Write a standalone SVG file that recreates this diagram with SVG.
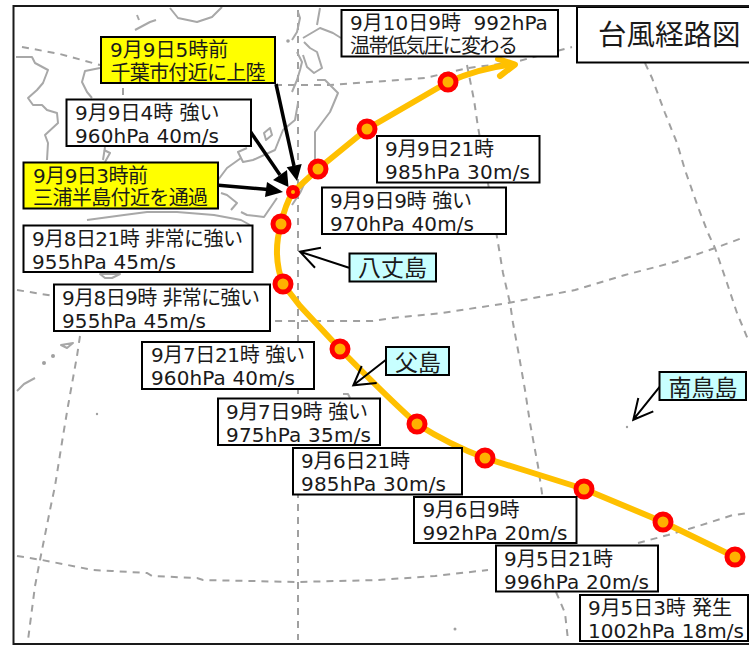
<svg xmlns="http://www.w3.org/2000/svg" width="749" height="646" viewBox="0 0 749 646">
<style>
text{font-family:"DejaVu Sans","Noto Sans CJK JP",sans-serif;font-size:20px;fill:#1a1a1a;white-space:pre}
.isln{font-size:23px}
.box{fill:#fff;stroke:#000;stroke-width:2}
.y{fill:#ff0}
.c{fill:#c8ffff}
.coast{fill:none;stroke:#a8a8a8;stroke-width:2;stroke-linejoin:round}
.dash{fill:none;stroke:#a0a0a0;stroke-width:2;stroke-dasharray:7 6}
.isl{fill:#a0a0a0}
.mk{fill:#ffb000;stroke:#f00;stroke-width:5}
.route{fill:none;stroke:#ffc000;stroke-width:6;stroke-linecap:round;stroke-linejoin:round}
.arw{fill:none;stroke:#000;stroke-width:3.500}
.thin{fill:none;stroke:#000;stroke-width:2}
</style>
<rect x="0" y="0" width="749" height="646" fill="#fff"/>
<g id="map">
<path class="dash" d="M298 10V640"/>
<path class="dash" d="M22 47L60 54L100 65M275 85H330L425 78L468 68L515 62L572 47"/>
<path class="dash" d="M17 290L54 296L270 321L373 321L392 318L442 313L508 303L575 290L625 275L675 262L715 248L745 237"/>
<path class="dash" d="M645 63L652 78L665 113L677 143L685 170L698 207L708 233L715 248L727 283L737 313L742 325L749 342"/>
<path class="dash" d="M467 65L474 100L478 127L488 183L498 243L503 273L510 303L513 323L518 350L525 390L530 423L538 466L543 500M556 592L565 613L568 640"/>
<path class="dash" d="M17 556L42 560L93 570L112 571L147 573L152 576L197 578L203 580L297 582L378 580L435 576L488 570M638 543L668 535L692 528L708 523L733 515L749 513"/>
<path class="dash" d="M80 336L77 356L68 406L63 436L55 486L50 510L42 550L40 560L35 586L28 640"/>
<path class="dash" d="M123 88V100"/>
<path class="coast" d="M16 57H32L35 63L48 70L43 83L37 90L28 98L33 105L42 105L47 110L57 113L58 123L45 135L48 143L47 160"/>
<path class="coast" d="M100 68L85 71L82 82L87 92L92 98M105 147L103 160M135 30L150 22L156 20M137 15L139 20M170 8L178 18L197 22L212 17L222 7"/>
<path class="coast" d="M298 12L300 18L297 32L292 40M303 38L320 28L333 33L341 38M320 8L317 25M297 52L302 62L300 70L297 80L292 92M304 42L310 48L317 52L322 68L314 73L307 67L303 55M317 80L325 80L338 93L333 105L330 112L315 132L315 160M307 178L300 193L292 205"/>
<path class="coast" d="M298 103L295 120L283 130L275 150L253 160L243 162L238 152L247 148M241 158L227 168L218 180"/>
<path class="coast" d="M221 193L227 195L237 203L231 210M241 212L247 215L264 217L277 198M87 220L124 215L147 212L177 212L214 215L241 220L250 225M104 150L110 153L105 162"/>
<path class="coast" d="M264 133L270 128L272 135L266 140Z"/>
<path class="coast" d="M100 274L120 274L112 278L105 278Z"/>
<circle class="isl" cx="288" cy="41" r="1.800"/>
<circle class="isl" cx="97" cy="414" r="1.200"/>
<circle class="isl" cx="627" cy="427" r="1.200"/>
<circle class="isl" cx="455" cy="629" r="1.500"/>
<path class="coast" d="M343 394H348L350 398"/>
<path class="coast" d="M17 391L24 384L35 378"/>
<circle class="isl" cx="44" cy="363" r="2"/>
<circle class="isl" cx="53" cy="356" r="2"/>
<path class="coast" d="M61 345L73 343L67 348Z"/>
</g>
<g id="connectors">
<path class="route" d="M735 557L663 522L584 489L530 472L485 458Q450 445 417 424Q385 395 340 349L300 306L283 284Q272 255 281 224Q285 205 293 192L318 169L367 129L448 82Q480 68 512 64.500"/>
<path class="route" d="M498 59L515 64.500L500 76"/>
<path class="arw" d="M276 84L294 166"/>
<path d="M286.700 167.300L301.700 164L297 181Z" fill="#000"/>
<path class="arw" d="M250 131L280 175"/>
<path d="M273 180L287 170L288.500 187Z" fill="#000"/>
<path class="arw" d="M215.700 185L268 189.500"/>
<path d="M267 182L265 197L283 192Z" fill="#000"/>
<path class="thin" d="M349 267.700L300 251.700M321 247.700L300 251.700L315 267.700"/>
<path class="thin" d="M385.700 360L353.300 385.300M361.700 366L353.300 385.300L376.700 383"/>
<path class="thin" d="M660 386.300L633.300 419.700M638.300 398L633.300 419.700L653.300 411.300"/>
</g>
<g id="typhoon-points">
<circle id="p1" class="mk" cx="735" cy="557" r="8"/>
<circle id="p2" class="mk" cx="663" cy="522" r="8"/>
<circle id="p3" class="mk" cx="584" cy="489" r="8"/>
<circle id="p4" class="mk" cx="485" cy="458" r="8"/>
<circle id="p5" class="mk" cx="417" cy="424" r="8"/>
<circle id="p6" class="mk" cx="340" cy="349" r="8"/>
<circle id="p7" class="mk" cx="283" cy="284" r="8"/>
<circle id="p8" class="mk" cx="281" cy="224" r="8"/>
<circle id="p9" cx="293" cy="192" r="4.500" fill="#ffb000" stroke="#f00" stroke-width="5"/>
<circle id="p10" class="mk" cx="318" cy="169" r="8"/>
<circle id="p11" class="mk" cx="367" cy="129" r="8"/>
<circle id="p12" class="mk" cx="448" cy="82" r="8"/>
</g>
<g id="n-0910"><rect class="box" x="341.500" y="10" width="216.500" height="46.500"/><text x="350" y="30">9月10日9時  992hPa</text><text x="350" y="53" textLength="168">温帯低気圧に変わる</text></g>
<g id="n-title"><rect class="box" x="577" y="7" width="180" height="55.500"/><text x="598" y="45" style="font-size:28.500px">台風経路図</text></g>
<g id="n-0909-05"><rect class="box y" x="101" y="37" width="174" height="46"/><text x="110" y="57">9月9日5時前</text><text x="110.500" y="79.500" textLength="155">千葉市付近に上陸</text></g>
<g id="n-0909-04"><rect class="box" x="66.500" y="99.500" width="184.500" height="46.500"/><text x="75" y="119.500">9月9日4時 強い</text><text x="75" y="142.500" textLength="144">960hPa 40m/s</text></g>
<g id="n-0909-03"><rect class="box y" x="23.500" y="162.500" width="194.500" height="46"/><text x="33" y="182.500" textLength="115">9月9日3時前</text><text x="33" y="205" textLength="175">三浦半島付近を通過</text></g>
<g id="n-0908-21"><rect class="box" x="23.500" y="225.500" width="229" height="46.500"/><text x="32" y="245.500" textLength="211">9月8日21時 非常に強い</text><text x="32" y="268.500" textLength="144">955hPa 45m/s</text></g>
<g id="n-0908-09"><rect class="box" x="54" y="284.500" width="216" height="46.500"/><text x="62" y="304.500" textLength="198">9月8日9時 非常に強い</text><text x="62" y="327.500" textLength="144">955hPa 45m/s</text></g>
<g id="n-0909-21"><rect class="box" x="377" y="136" width="162.500" height="46.500"/><text x="385" y="156" textLength="109">9月9日21時</text><text x="385" y="179" textLength="145">985hPa 30m/s</text></g>
<g id="n-0909-09"><rect class="box" x="322" y="187.500" width="184" height="46.500"/><text x="330" y="207.500" textLength="142">9月9日9時 強い</text><text x="330" y="230.500" textLength="144">970hPa 40m/s</text></g>
<g id="n-hachijo"><rect class="box c" x="349.500" y="253.500" width="86.500" height="28"/><text class="isln" x="358" y="276">八丈島</text></g>
<g id="n-0907-21"><rect class="box" x="142" y="342" width="172" height="47"/><text x="151" y="362" textLength="154">9月7日21時 強い</text><text x="151" y="385" textLength="144">960hPa 40m/s</text></g>
<g id="n-chichijima"><rect class="box c" x="386" y="347" width="63" height="28"/><text class="isln" x="395" y="370.500">父島</text></g>
<g id="n-minamitorishima"><rect class="box c" x="659.500" y="372" width="86.500" height="28"/><text class="isln" x="668.500" y="395.500">南鳥島</text></g>
<g id="n-0907-09"><rect class="box" x="218" y="398.500" width="162" height="46.500"/><text x="226" y="418.500" textLength="142">9月7日9時 強い</text><text x="226" y="441.500" textLength="145">975hPa 35m/s</text></g>
<g id="n-0906-21"><rect class="box" x="293" y="448" width="169" height="46.500"/><text x="301" y="468" textLength="109">9月6日21時</text><text x="301" y="491" textLength="145">985hPa 30m/s</text></g>
<g id="n-0906-09"><rect class="box" x="414" y="497" width="162.500" height="46"/><text x="422.500" y="517" textLength="97">9月6日9時</text><text x="422.500" y="540" textLength="145">992hPa 20m/s</text></g>
<g id="n-0905-21"><rect class="box" x="496" y="545.500" width="162" height="46"/><text x="504" y="565.500" textLength="109">9月5日21時</text><text x="504" y="588.500" textLength="145">996hPa 20m/s</text></g>
<g id="n-0905-03"><rect class="box" x="580" y="595" width="168" height="46"/><text x="588" y="615" textLength="144">9月5日3時 発生</text><text x="588" y="638" textLength="156">1002hPa 18m/s</text></g>
<rect x="13.500" y="6" width="800" height="638" fill="none" stroke="#1a1a1a" stroke-width="2"/>
</svg>
